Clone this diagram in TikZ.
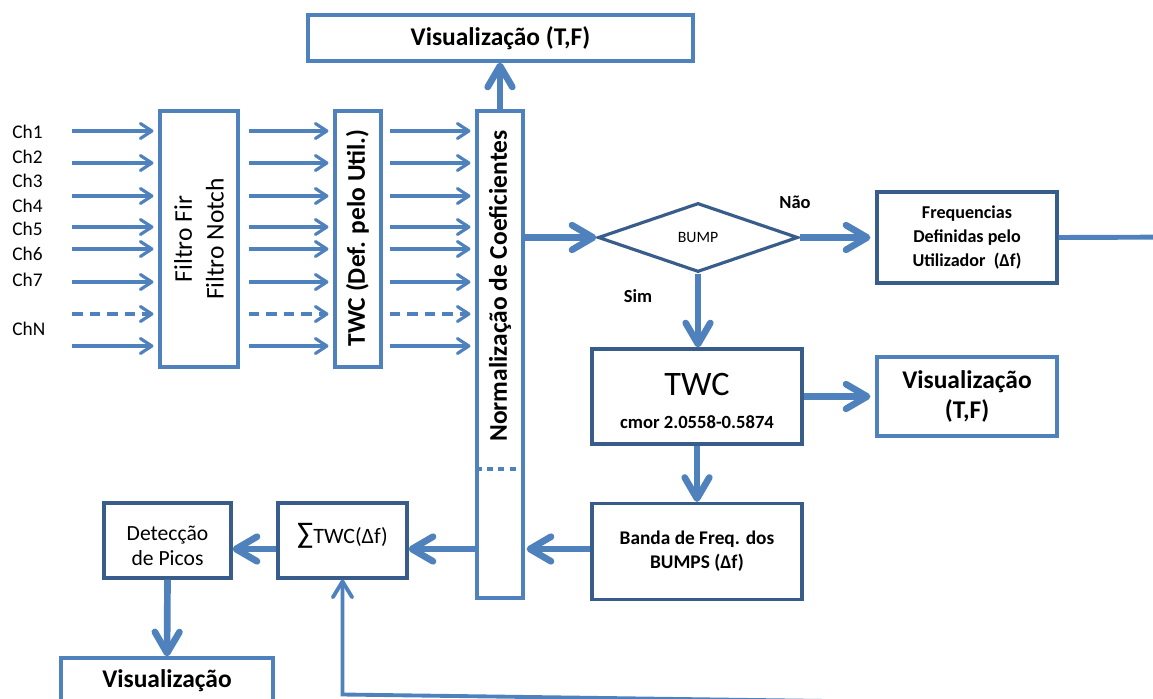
\documentclass[tikz,border=0pt]{standalone}
\usepackage{fontspec}
\setmainfont{Carlito}
\usetikzlibrary{arrows.meta,shapes.geometric,calc}

\definecolor{lightblue}{HTML}{4F81BD}
\definecolor{darkblue}{HTML}{385D8A}

\begin{document}
\begin{tikzpicture}[x=0.02cm, y=-0.02cm,
  box/.style={draw=lightblue, line width=1.8pt, inner sep=0pt, align=center},
  darkbox/.style={box, draw=darkblue},
  thinflow/.style={draw=lightblue, line width=1.8pt, -{Straight Barb[length=6.5pt,width=8.5pt,round]}},
  thickflow/.style={draw=lightblue, line width=3.8pt, -{Straight Barb[length=12pt,width=14pt,round]}},
  fbflow/.style={draw=lightblue, line width=2.2pt, -{Straight Barb[length=9pt,width=11pt,round]}},
  dashflow/.style={dash pattern=on 6pt off 4pt},
  chan/.style={font=\fontsize{11}{13}\selectfont, anchor=west, inner sep=0pt},
  vis/.style={font=\bfseries\fontsize{14.5}{17.6}\selectfont},
  small/.style={font=\bfseries\fontsize{10.5}{12}\selectfont},
]

% page frame
\clip (0,0) rectangle (1153,699);

% blocks
\node[box, vis, minimum width=7.7cm, minimum height=0.92cm] (visTop) at (500.5,38) {Visualização (T,F)};
\node[box, minimum width=1.56cm, minimum height=5.12cm] (filtro) at (199,239) {};
\node[rotate=90, align=center, font=\fontsize{14.5}{18}\selectfont] (filtroTxt) at (199,239) {Filtro Fir\\Filtro Notch};
\node[box, minimum width=0.92cm, minimum height=5.12cm] (twcDef) at (358,239) {};
\node[rotate=90, font=\bfseries\fontsize{14.5}{17}\selectfont] (twcDefTxt) at (357.5,238) {TWC (Def. pelo Util.)};
\node[box, minimum width=0.92cm, minimum height=9.74cm] (norm) at (500,354.5) {};
\node[rotate=90, font=\bfseries\fontsize{14.5}{17}\selectfont] (normTxt) at (500,286) {Normalização de Coeficientes};
\draw[lightblue, line width=1.8pt, dash pattern=on 3.5pt off 3pt] (norm.west |- 0,469) -- (norm.east |- 0,469);

\node[draw=darkblue, line width=1.8pt, shape=diamond, minimum width=4cm, minimum height=1.38cm,
  inner sep=0pt, font=\fontsize{9}{11}\selectfont] (bump) at (698,237.5) {BUMP};
\node[small] (nao) at (795,202) {Não};
\node[small] (sim) at (638,296) {Sim};
\node[darkbox, minimum width=3.6cm, minimum height=1.82cm, font=\bfseries\fontsize{10.3}{13.6}\selectfont] (freq) at (967,237.5)
  {Frequencias\\Definidas pelo\\Utilizador~~(Δf)};

\node[darkbox, minimum width=4.2cm, minimum height=1.9cm] (twc) at (697,396.5) {};
\node[align=center, font=\bfseries\fontsize{10.6}{18.4}\selectfont] (twcTxt) at (697,401)
  {{\mdseries\fontsize{19.5}{20}\selectfont TWC}\\cmor 2.0558-0.5874};
\node[box, vis, minimum width=3.6cm, minimum height=1.58cm] (visRight) at (967,396.5) {Visualização\\(T,F)};
\node[darkbox, minimum width=4.2cm, minimum height=1.92cm, font=\bfseries\fontsize{11}{13.6}\selectfont] (banda) at (697,551.5)
  {Banda de Freq. dos\\BUMPS (Δf)};

\node[darkbox, minimum width=2.58cm, minimum height=1.5cm] (sigma) at (342.5,540.5) {};
\node[font=\fontsize{12.5}{14}\selectfont] (sigmaTxt) at (342.5,536) {{\fontsize{17}{17}\selectfont ∑}TWC(Δf)};
\node[darkbox, minimum width=2.54cm, minimum height=1.5cm] (detec) at (167.5,540.5) {};
\node[align=center, font=\fontsize{12.3}{14.2}\selectfont] (detecTxt) at (167.5,545.5) {Detecção\\de Picos};
\node[box, vis, minimum width=4.24cm, minimum height=0.92cm] (visBot) at (167,681) {Visualização};

% input channels
\foreach \y/\lbl in {132/Ch1,157/Ch2,181/Ch3,206/Ch4,229/Ch5,254/Ch6,280/Ch7,329/ChN}
  \node[chan] (\lbl) at (12,\y) {\lbl};

\foreach \y/\ls in {131/solid,163/solid,196/solid,227/solid,249/solid,282/solid,314/dashflow,346/solid} {
  \draw[thinflow,\ls] (72,\y) -- ([xshift=-0.1cm]filtro.west |- 0,\y);
  \draw[thinflow,\ls] ([xshift=0.18cm]filtro.east |- 0,\y) -- ([xshift=-0.1cm]twcDef.west |- 0,\y);
  \draw[thinflow,\ls] ([xshift=0.14cm]twcDef.east |- 0,\y) -- ([xshift=-0.1cm]norm.west |- 0,\y);
}

% flow
\draw[thickflow] (norm.north) -- (norm.north |- visTop.south);
\draw[thickflow] (norm.east |- bump.west) -- (bump.west);
\draw[thickflow, shorten >=0.1cm] (bump.east) -- (freq.west);
\draw[thickflow] (bump.south) -- (bump.south |- twc.north);
\draw[thickflow, shorten >=0.1cm] (twc.east) -- (twc.east -| visRight.west);
\draw[thickflow] (twc.south) -- (banda.north);
\draw[thickflow, shorten >=0.04cm] (banda.west |- 0,549) -- (norm.east |- 0,549);
\draw[thickflow] (norm.west |- 0,549) -- (sigma.east |- 0,549);
\draw[thickflow] (sigma.west |- 0,549) -- (detec.east |- 0,549);
\draw[thickflow] (detec.south) -- (visBot.north);

% feedback from the user bands
\coordinate (fbA) at (1200,237);
\coordinate (fbB) at (1200,706);
\draw[lightblue, line width=2.8pt] (freq.east) -- (fbA);
\draw[fbflow] (fbA) -- (fbB) -- (sigma.south |- 0,694.5) -- (sigma.south);

\end{tikzpicture}
\end{document}
